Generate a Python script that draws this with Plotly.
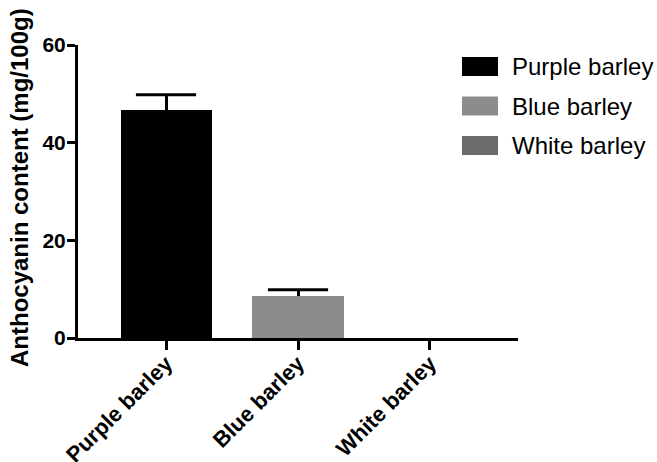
import plotly.graph_objects as go

# Anthocyanin content per barley type (mean with upper SD)
categories = ["Purple barley", "Blue barley", "White barley"]
means = [46.7, 8.5, 0.0]
errors = [3.1, 1.4, 0.0]
colors = ["#000000", "#8c8c8c", "#6b6b6b"]
y_ticks = [0, 20, 40, 60]
y_title = "Anthocyanin content (mg/100g)"

FONT = "Arial, Liberation Sans, sans-serif"
positions = list(range(len(categories)))

fig = go.Figure()
# Bars with the upward-only error stem (caps added separately)
fig.add_trace(go.Bar(
    x=positions,
    y=means,
    width=0.69,
    marker=dict(color=colors, line=dict(width=0)),
    error_y=dict(type="data", array=errors, arrayminus=[0] * len(errors),
                 symmetric=False, color="#000000", thickness=3, width=0),
    showlegend=False,
    hoverinfo="skip",
))
# Caps at the top of each error stem
cap_x = [p for p, e in zip(positions, errors) if e > 0]
cap_y = [m + e for m, e in zip(means, errors) if e > 0]
fig.add_trace(go.Scatter(
    x=cap_x, y=cap_y, mode="markers",
    marker=dict(symbol="line-ew", size=43, color="#000000",
                line=dict(width=3, color="#000000")),
    showlegend=False, hoverinfo="skip", cliponaxis=False,
))

W, H = 657, 462
ml, mr, mt, mb = 78, 139, 45, 124
pw, ph = W - ml - mr, H - mt - mb

def px_to_paper_x(px):
    return (px - ml) / pw

def px_to_paper_y(py):
    return 1 - (py - mt) / ph

# Legend drawn as filled boxes with labels on the right of the plot
legend_top = 57
row_gap = 39.5
shapes = []
annotations = []
for i, (name, col) in enumerate(zip(categories, colors)):
    y0 = legend_top + i * row_gap
    shapes.append(dict(type="rect", xref="paper", yref="paper",
                       x0=px_to_paper_x(462), x1=px_to_paper_x(498),
                       y0=px_to_paper_y(y0 + 19), y1=px_to_paper_y(y0),
                       fillcolor=col, line=dict(width=0)))
    annotations.append(dict(xref="paper", yref="paper",
                            x=px_to_paper_x(510), y=px_to_paper_y(y0 + 9.5),
                            xanchor="left", yanchor="middle", showarrow=False,
                            text=name, font=dict(family=FONT, size=24, color="#000000")))

annotations.append(dict(xref="paper", yref="paper",
                        x=px_to_paper_x(20), y=px_to_paper_y(188),
                        xanchor="center", yanchor="middle", showarrow=False,
                        textangle=-90, text=f"<b>{y_title}</b>",
                        font=dict(family=FONT, size=24, color="#000000")))

fig.update_layout(
    width=W, height=H,
    margin=dict(l=ml, r=mr, t=mt, b=mb, pad=0),
    paper_bgcolor="#ffffff", plot_bgcolor="#ffffff",
    showlegend=False,
    shapes=shapes, annotations=annotations,
    bargap=0,
)
fig.update_xaxes(
    range=[-0.667, 2.667], tickvals=positions,
    ticktext=[f"<b>{c}</b>" for c in categories], tickangle=-45,
    showline=True, linecolor="#000000", linewidth=3,
    ticks="outside", ticklen=9, tickwidth=3, tickcolor="#000000",
    showgrid=False, zeroline=False, automargin=False,
    ticklabelstandoff=-8,
    tickfont=dict(family=FONT, size=22, color="#000000"),
)
fig.update_yaxes(
    range=[0, 60], tickvals=y_ticks, ticktext=[f"<b>{v}</b>" for v in y_ticks],
    showline=True, linecolor="#000000", linewidth=3,
    ticks="outside", ticklen=8, tickwidth=3, tickcolor="#000000",
    showgrid=False, zeroline=False, automargin=False,
    ticklabelstandoff=-3,
    tickfont=dict(family=FONT, size=21, color="#000000"),
)

fig.write_html("out.html")
